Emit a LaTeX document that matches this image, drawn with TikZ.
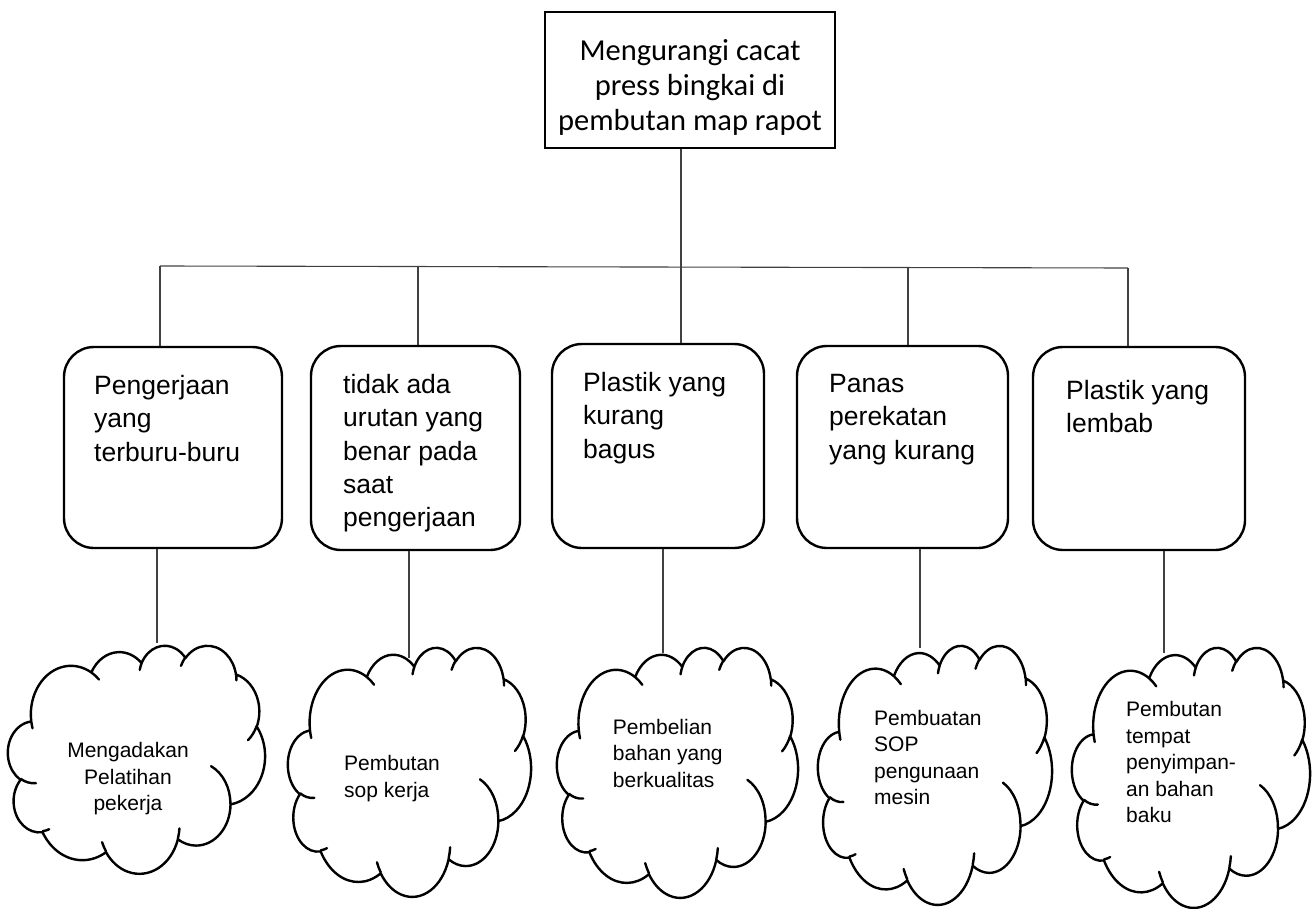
\documentclass[tikz,border=0pt]{standalone}
\usepackage{fontspec}
\newfontfamily\arialf{Liberation Sans}
\newfontfamily\calibrif{Carlito}

% Elliptic arc given DrawingML style: radii, start angle and sweep in 1/60000 deg
% (visual angles), converted to TikZ parametric angles. Units are 1/100.
\newcommand\ooT[3]{atand((#1)*sind((#3)/60000), (#2)*cosd((#3)/60000))}
\newcommand\ooarc[4]{arc[x radius=\fpeval{#1/100}, y radius=\fpeval{#2/100},
  start angle=\fpeval{round(\ooT{#1}{#2}{#3},4)},
  delta angle=\fpeval{round((\ooT{#1}{#2}{#3+#4}-\ooT{#1}{#2}{#3})
    +360*round(((#4)/60000-(\ooT{#1}{#2}{#3+#4}-\ooT{#1}{#2}{#3}))/360),4)}]}

% cloud outline plus the small inner strokes, in a 432 x 432 box
\edef\cloudpaths{(39,143.7)
  \ooarc{6753}{9190}{-11429249}{7426832}
  \ooarc{5333}{7267}{-8646143}{5396714}
  \ooarc{4365}{5945}{-8748475}{5983381}
  \ooarc{4857}{6595}{-7859164}{7034504}
  \ooarc{5333}{7273}{-4722533}{6541615}
  \ooarc{6775}{9220}{-2776035}{7816140}
  \ooarc{5785}{7867}{37501}{6842000}
  \ooarc{6752}{9215}{1347096}{6910353}
  \ooarc{7720}{10543}{3974558}{4542661}
  \ooarc{4360}{5918}{-16496525}{8804134}
  \ooarc{4345}{5945}{-14809710}{9151131} -- cycle
  (46.93,261.77) \ooarc{4345}{5945}{5204520}{1585770}
  (69.28,348.99) \ooarc{4360}{5918}{4416628}{686570}
  (164.78,390.90) \ooarc{6752}{9215}{8257449}{844866}
  (288.27,347.51) \ooarc{6752}{9215}{387196}{959901}
  (341.29,229.54) \ooarc{5785}{7867}{-4217541}{4255042}
  (417.98,153.54) \ooarc{5333}{7273}{1819082}{1665090}
  (383.24,54.26) \ooarc{4857}{6595}{-824660}{891534}
  (290.78,39.52) \ooarc{4857}{6595}{-8950887}{1091722}
  (221.41,47.20) \ooarc{4365}{5945}{-9809656}{1061181}
  (140.00,51.92) \ooarc{6753}{9190}{-4002417}{739161}
  (41.27,157.89) \ooarc{6753}{9190}{9459261}{711490}}
\newcommand\drawcloudpath[1]{\draw[cloudline] #1;}
% \cloudat{left}{top}{width}{height}
\newcommand\cloudat[4]{%
  \begin{scope}[shift={(#1,#2)}, xscale=#3/432, yscale=#4/432]
    \expandafter\drawcloudpath\expandafter{\cloudpaths}
  \end{scope}}

\tikzset{
  goalbox/.style={draw, line width=2.2pt, inner sep=0pt},
  goaltext/.style={anchor=north, inner sep=0pt, align=center,
    font=\calibrif\fontsize{30.5}{35}\selectfont},
  causebox/.style={draw, line width=2.4pt, rounded corners=30pt, inner sep=0pt},
  causetext/.style={anchor=north west, inner sep=0pt, align=left,
    font=\arialf\fontsize{26.5}{33.3}\selectfont},
  fixtext/.style={anchor=north west, inner sep=0pt, align=left,
    font=\arialf\fontsize{21}{26.5}\selectfont},
  link/.style={line width=1.1pt, draw=black!75},
  cloudline/.style={line width=2.4pt, line join=round, line cap=round}
}

\begin{document}
\begin{tikzpicture}[x=1pt, y=1pt, yscale=-1]
\useasboundingbox (0,0) rectangle (1314,909);

% goal
\node[goalbox, minimum width=290pt, minimum height=136pt] (goal) at (690,80) {};
\node[goaltext] (goaltxt) at (690,36)
  {\strut Mengurangi cacat\\press bingkai di\\pembutan map rapot};

% causes
\node[causebox, minimum width=218pt, minimum height=201pt] (k1) at (173,447.5) {};
\node[causebox, minimum width=209pt, minimum height=204pt] (k2) at (415.5,448) {};
\node[causebox, minimum width=212pt, minimum height=204pt] (k3) at (658,446) {};
\node[causebox, minimum width=211pt, minimum height=202pt] (k4) at (902.5,447) {};
\node[causebox, minimum width=212pt, minimum height=203pt] (k5) at (1139,448.5) {};

\node[causetext] (t1) at (94,370.9) {\strut Pengerjaan\\yang\\terburu-buru};
\node[causetext] (t2) at (343,369.9) {\strut tidak ada\\urutan yang\\benar pada\\saat\\pengerjaan};
\node[causetext] (t3) at (583,367.9) {\strut Plastik yang\\kurang\\bagus};
\node[causetext] (t4) at (829,368.9) {\strut Panas\\perekatan\\yang kurang};
\node[causetext] (t5) at (1066,375.9) {\strut Plastik yang\\lembab};

% bus between goal and causes
\coordinate (j1) at (160,266);
\coordinate (j2) at (418,266.5);
\coordinate (j3) at (681,267);
\coordinate (j4) at (908,267.5);
\coordinate (j5) at (1128,268);
\draw[link] (j1) -- (j5);
\draw[link] (goal.south -| j3) -- (j3);
\foreach \i in {1,...,5} \draw[link] (j\i) -- (j\i |- k\i.north);

% links to the remedies
\coordinate (e1) at (157,643);
\coordinate (e2) at (409,658);
\coordinate (e3) at (663,653);
\coordinate (e4) at (920,648);
\coordinate (e5) at (1164,653);
\foreach \i in {1,...,5} \draw[link] (e\i |- k\i.south) -- (e\i);

% remedies
\cloudat{8}{645}{257}{228}
\cloudat{288}{647}{243}{249}
\cloudat{557}{647}{241}{250}
\cloudat{818}{645}{234}{259}
\cloudat{1072}{647}{238}{260}

\node[fixtext, anchor=north, align=center] (m1) at (128,739.1)
  {\strut Mengadakan\\Pelatihan\\pekerja};
\node[fixtext] (m2) at (344,752.1) {\strut Pembutan\\sop kerja};
\node[fixtext] (m3) at (612.7,715.4) {\strut Pembelian\\bahan yang\\berkualitas};
\node[fixtext] (m4) at (874,706.4) {\strut Pembuatan\\SOP\\pengunaan\\mesin};
\node[fixtext] (m5) at (1126,698.1) {\strut Pembutan\\tempat\\penyimpan-\\an bahan\\baku};
\end{tikzpicture}
\end{document}
